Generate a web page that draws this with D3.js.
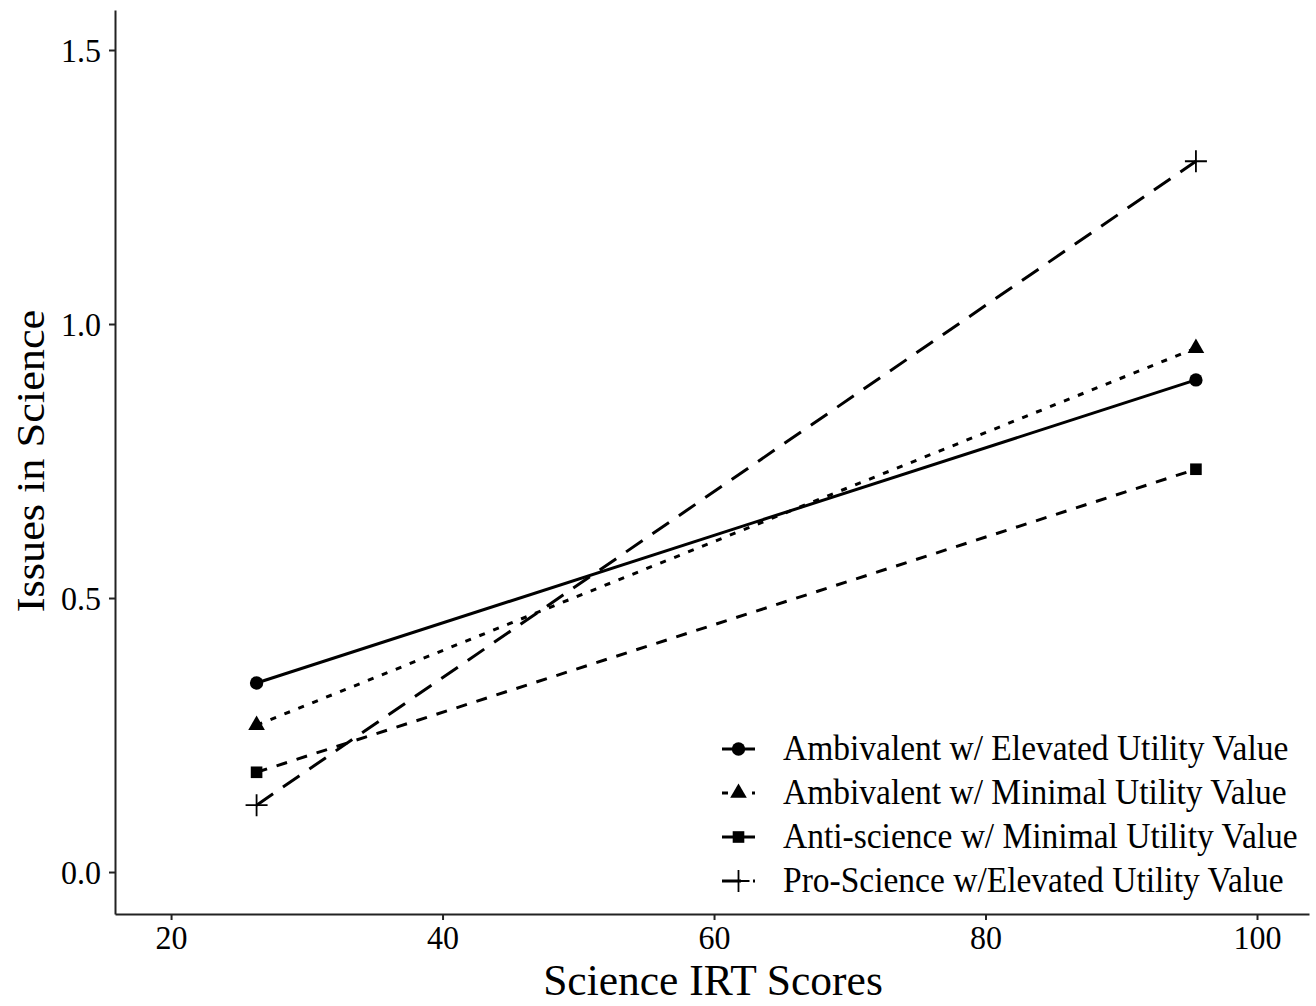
<!DOCTYPE html>
<html>
<head>
    <meta charset="utf-8">
    <title>Issues in Science by Science IRT Scores</title>
    <script src="https://d3js.org/d3.v7.min.js"></script>
    <style>
        body { margin: 0; background: #fff; }
        text { font-family: "Liberation Serif", "Times New Roman", serif; fill: #000; }
    </style>
</head>
<body>
    <svg width="1316" height="1006"></svg>
    <script>
        // data
        const groups = [
            "Ambivalent w/ Elevated Utility Value",
            "Ambivalent w/ Minimal Utility Value",
            "Anti-science w/ Minimal Utility Value",
            "Pro-Science w/Elevated Utility Value"
        ];
        const xValues = [26.3, 95.5];
        const elevatedAmb = [0.345, 0.898];
        const minimalAmb = [0.268, 0.956];
        const minimalAnti = [0.182, 0.735];
        const elevatedPro = [0.122, 1.297];
        const xTicks = [20, 40, 60, 80, 100];
        const yTicks = [0.0, 0.5, 1.0, 1.5];

        const seriesValues = [elevatedAmb, minimalAmb, minimalAnti, elevatedPro];
        const dashes = [null, "6,9", "11,10", "20,12"];
        const legendDashes = [null, "6,9", null, "19,12"];
        const shapes = [d3.symbolCircle, d3.symbolTriangle, d3.symbolSquare, "plus"];

        const svg = d3.select("svg");

        const x = d3.scaleLinear().domain([15.87, 103.83]).range([115, 1309]);
        const y = d3.scaleLinear().domain([-0.0766, 1.573]).range([914, 10]);

        // the source picture is a bit taller than wide, so stretch text slightly
        const stretch = 1.08;

        // axes
        const xAxis = svg.append("g")
            .attr("transform", "translate(0,914)")
            .call(d3.axisBottom(x).tickValues(xTicks).tickSize(6).tickPadding(6).tickSizeOuter(0));
        const yAxis = svg.append("g")
            .attr("transform", "translate(115,0)")
            .call(d3.axisLeft(y).tickValues(yTicks).tickFormat(d3.format(".1f")).tickSize(6).tickPadding(8).tickSizeOuter(0));

        [xAxis, yAxis].forEach(g => {
            g.select(".domain").attr("stroke", "#222").attr("stroke-width", 2);
            g.selectAll(".tick line").attr("stroke", "#222").attr("stroke-width", 2);
            g.selectAll(".tick text").attr("font-size", 32).attr("fill", "#111");
        });
        xAxis.selectAll(".tick text").attr("dy", null).attr("y", 0)
            .attr("transform", "translate(0,35) scale(1,1.05)");
        yAxis.selectAll(".tick text").attr("dy", null).attr("x", 0)
            .attr("transform", `translate(-14,11) scale(1,${stretch})`);

        // axis titles
        svg.append("text")
            .attr("x", 713).attr("y", 995)
            .attr("text-anchor", "middle")
            .attr("font-size", 43.5)
            .text("Science IRT Scores");
        svg.append("text")
            .attr("transform", `translate(44,461) rotate(-90) scale(${stretch},1)`)
            .attr("text-anchor", "middle")
            .attr("font-size", 41)
            .text("Issues in Science");

        const line = d3.line().x(d => x(d[0])).y(d => y(d[1]));

        function drawMarker(g, shape, cx, cy) {
            if (shape === "plus") {
                const h = 11;
                g.append("path")
                    .attr("d", `M${cx - h},${cy}H${cx + h}M${cx},${cy - h}V${cy + h}`)
                    .attr("stroke", "#000").attr("stroke-width", 1.8).attr("fill", "none");
            } else {
                const size = shape === d3.symbolCircle ? 140 : shape === d3.symbolSquare ? 135 : 120;
                g.append("path")
                    .attr("transform", `translate(${cx},${cy})`)
                    .attr("d", d3.symbol().type(shape).size(size)())
                    .attr("fill", "#000");
            }
        }

        // series lines + points
        seriesValues.forEach((vals, i) => {
            const pts = xValues.map((xv, j) => [xv, vals[j]]);
            svg.append("path")
                .attr("d", line(pts))
                .attr("fill", "none")
                .attr("stroke", "#000")
                .attr("stroke-width", 3)
                .attr("stroke-dasharray", dashes[i]);
            const g = svg.append("g");
            pts.forEach(p => drawMarker(g, shapes[i], x(p[0]), y(p[1])));
        });

        // legend
        const legend = svg.append("g").attr("transform", "translate(722,749)");
        groups.forEach((name, i) => {
            const row = legend.append("g").attr("transform", `translate(0,${i * 44})`);
            row.append("line")
                .attr("x1", 0).attr("x2", 33).attr("y1", 0).attr("y2", 0)
                .attr("stroke", "#000").attr("stroke-width", 3)
                .attr("stroke-dasharray", legendDashes[i]);
            drawMarker(row, shapes[i], 16.5, 0);
            row.append("text")
                .attr("transform", `translate(61,11) scale(1,${stretch})`)
                .attr("font-size", 33.5)
                .text(name);
        });
    </script>
</body>
</html>
